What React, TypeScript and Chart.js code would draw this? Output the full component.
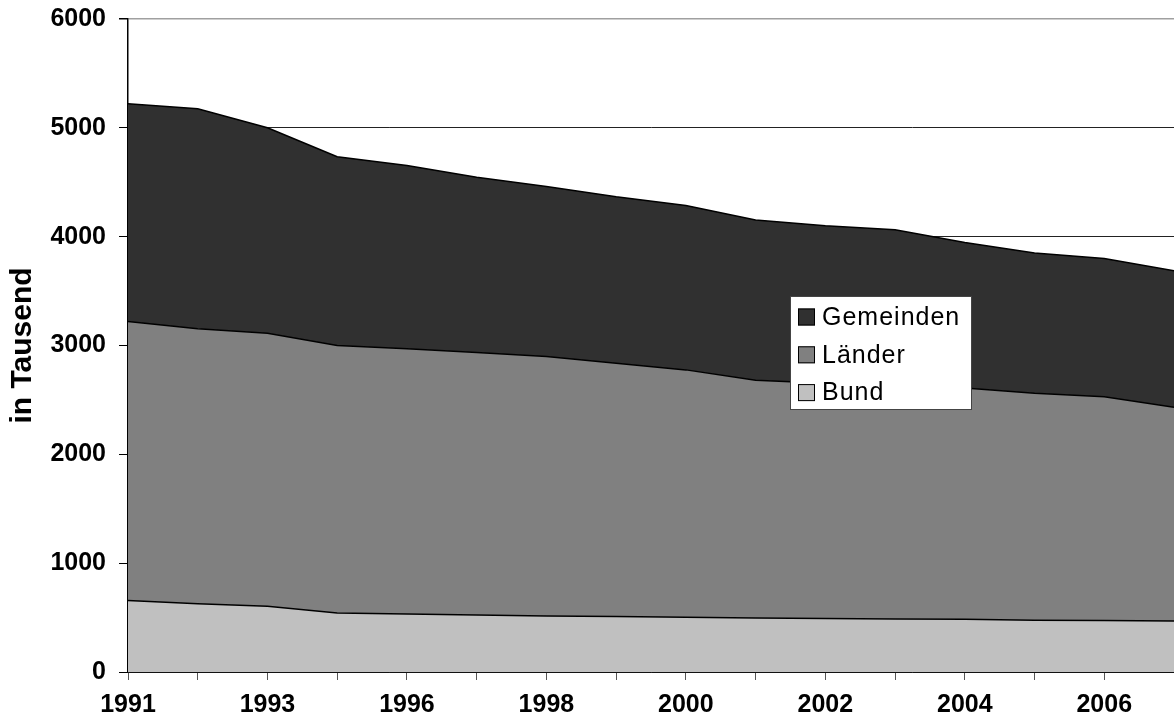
import React, { useEffect, useRef } from "react";
import { Chart, registerables } from "chart.js";

Chart.register(...registerables);

const years = ["1991", "1992", "1993", "1995", "1996", "1997", "1998", "1999", "2000", "2001", "2002", "2003", "2004", "2005", "2006", "2007"];
const bund = [657, 626, 604, 543, 534, 524, 515, 510, 503, 497, 491, 488, 485, 476, 473, 469];
const laender = [2563, 2527, 2509, 2456, 2437, 2411, 2383, 2327, 2273, 2184, 2162, 2142, 2125, 2085, 2057, 1963];
const gemeinden = [2002, 2022, 1887, 1736, 1683, 1610, 1564, 1530, 1511, 1472, 1447, 1433, 1337, 1288, 1270, 1254];
const yTicks = [0, 1000, 2000, 3000, 4000, 5000, 6000];

const FONT = "'Liberation Sans', Arial, Helvetica, sans-serif";

const boxLegend = {
  id: "boxLegend",
  afterDraw(chart: any, _args: any, opts: any) {
    const ctx = chart.ctx;
    ctx.save();
    ctx.fillStyle = "#ffffff";
    ctx.fillRect(opts.x, opts.y, opts.w, opts.h);
    ctx.strokeStyle = "#444444";
    ctx.lineWidth = 1;
    ctx.strokeRect(opts.x + 0.5, opts.y + 0.5, opts.w, opts.h);
    const ds = chart.data.datasets.slice().reverse();
    ds.forEach((d: any, i: number) => {
      const cy = opts.y + opts.first + i * opts.rowH;
      ctx.fillStyle = d.backgroundColor;
      ctx.fillRect(opts.boxX, cy - opts.box / 2, opts.box, opts.box);
      ctx.strokeStyle = "#000";
      ctx.lineWidth = 1;
      ctx.strokeRect(opts.boxX + 0.5, cy - opts.box / 2 + 0.5, opts.box - 1, opts.box - 1);
      ctx.fillStyle = "#000";
      ctx.font = `25px ${FONT}`;
      try { (ctx as any).letterSpacing = "1px"; } catch (e) {}
      ctx.textBaseline = "middle";
      ctx.textAlign = "left";
      ctx.fillText(d.label, opts.textX, cy + 1);
    });
    ctx.restore();
  },
};

export default function App() {
  const ref = useRef<HTMLCanvasElement>(null);
  useEffect(() => {
    if (!ref.current) return;
    const chart = new Chart(ref.current, {
      type: "line",
      data: {
        labels: years,
        datasets: [
          { label: "Bund", data: bund, backgroundColor: "#c0c0c0", borderColor: "#000", borderWidth: 1.5, fill: "origin", pointRadius: 0, tension: 0 },
          { label: "Länder", data: laender, backgroundColor: "#808080", borderColor: "#000", borderWidth: 1.5, fill: "-1", pointRadius: 0, tension: 0 },
          { label: "Gemeinden", data: gemeinden, backgroundColor: "#303030", borderColor: "#000", borderWidth: 1.5, fill: "-1", pointRadius: 0, tension: 0 },
        ],
      },
      options: {
        animation: false,
        responsive: true,
        maintainAspectRatio: false,
        layout: { padding: { top: 19, right: 0, left: 0, bottom: 0 } },
        plugins: {
          legend: { display: false },
          tooltip: { enabled: false },
          boxLegend: { x: 790, y: 296, w: 181, h: 113, first: 21, rowH: 37.8, box: 17, boxX: 798, textX: 822 },
        } as any,
        scales: {
          x: {
            offset: false,
            grid: { display: true, drawOnChartArea: false, drawTicks: true, tickLength: 8, tickColor: "#555", color: "#555" },
            border: { display: true, color: "#000", width: 1.5 },
            ticks: {
              autoSkip: false,
              maxRotation: 0,
              minRotation: 0,
              padding: 10,
              color: "#000",
              font: { family: FONT, size: 25, weight: "bold" },
              callback: (_v: any, i: number) => (i % 2 === 0 ? years[i] : ""),
            },
            afterFit: (s: any) => { s.height = 55; s.paddingRight = 0; s.paddingLeft = 0; },
          },
          y: {
            stacked: true,
            min: 0,
            max: 6000,
            afterBuildTicks: (s: any) => { s.ticks = yTicks.map((v) => ({ value: v })); },
            grid: {
              color: (c: any) => (c.tick && c.tick.value === 6000 ? "#a0a0a0" : "#222"),
              lineWidth: (c: any) => (c.tick && c.tick.value === 6000 ? 1.5 : 1),
              tickLength: 9,
              tickColor: "#000",
            },
            border: { display: true, color: "#000", width: 1.5 },
            ticks: {
              padding: 13,
              color: "#000",
              font: { family: FONT, size: 25, weight: "bold" },
              callback: (v: any) => String(v),
            },
            title: {
              display: true,
              text: "in Tausend",
              color: "#000",
              font: { family: FONT, size: 30, weight: "bold" },
              padding: { top: 5, bottom: 0 },
            },
            afterFit: (s: any) => { s.width = 128; s.paddingTop = 0; s.paddingBottom = 0; },
          },
        },
      },
      plugins: [boxLegend],
    });
    return () => chart.destroy();
  }, []);
  return (
    <div style={{ position: "absolute", left: 0, top: 0, width: 1174, height: 727, background: "#fff" }}>
      <canvas ref={ref} />
    </div>
  );
}
